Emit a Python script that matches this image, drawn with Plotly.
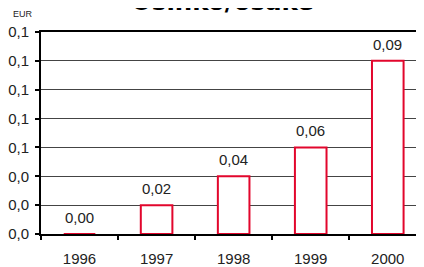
import plotly.graph_objects as go

years = ["1996", "1997", "1998", "1999", "2000"]
dividend = [0.0, 0.015, 0.03, 0.045, 0.09]          # bar heights
value_labels = ["0,00", "0,02", "0,04", "0,06", "0,09"]
y_tickvals = [0.0, 0.015, 0.03, 0.045, 0.06, 0.075, 0.09, 0.105]
y_ticktext = ["0,0", "0,0", "0,0", "0,1", "0,1", "0,1", "0,1", "0,1"]

FONT = "Liberation Sans, Arial, sans-serif"
TXT = "#222222"
RED = "#e2062c"

fig = go.Figure()
fig.add_trace(go.Bar(
    x=years, y=dividend,
    marker=dict(color="white", line=dict(color=RED, width=2)),
    width=0.41,
    hoverinfo="skip",
))

# value labels above bars (category axis: annotation x is the category index)
for i, (v, lab) in enumerate(zip(dividend, value_labels)):
    fig.add_annotation(x=i, y=v, xref="x", yref="y", text=lab, showarrow=False,
                       yanchor="bottom", yshift=6,
                       font=dict(family=FONT, size=15, color=TXT))

fig.add_annotation(text="<b>Osinko/osake</b>", xref="paper", yref="paper",
                   x=0.474, y=1.0, yshift=14, yanchor="bottom", showarrow=False,
                   font=dict(family="DejaVu Sans, sans-serif", size=24.5, color="black"))
fig.add_annotation(text="EUR", xref="paper", yref="paper",
                   x=0.0, xshift=-18, y=1.0, yshift=11, yanchor="bottom", xanchor="center",
                   showarrow=False,
                   font=dict(family=FONT, size=9, color=TXT))

# the page adds an 8px body margin, so the figure is sized/placed to compensate
fig.update_layout(
    width=416, height=259,
    margin=dict(l=32, r=0, t=24, b=30),
    paper_bgcolor="white", plot_bgcolor="white",
    showlegend=False,
    font=dict(family=FONT, size=15, color=TXT),
    xaxis=dict(
        type="category", range=[-0.5, 4.47],
        showline=True, linecolor="black", linewidth=2, mirror=True,
        ticks="outside", tickson="boundaries", ticklen=4, tickcolor="black", tickwidth=1.5,
        showgrid=False, ticklabelstandoff=10,
        tickfont=dict(family=FONT, size=15, color=TXT),
    ),
    yaxis=dict(
        range=[0, 0.105], tickvals=y_tickvals, ticktext=y_ticktext,
        showline=True, linecolor="black", linewidth=2,
        ticks="outside", ticklen=4, tickcolor="black", tickwidth=1.5,
        showgrid=True, gridcolor="#444444", gridwidth=1,
        zeroline=False, ticklabelstandoff=3,
        tickfont=dict(family=FONT, size=15, color=TXT),
    ),
)

fig.write_html("out.html")
